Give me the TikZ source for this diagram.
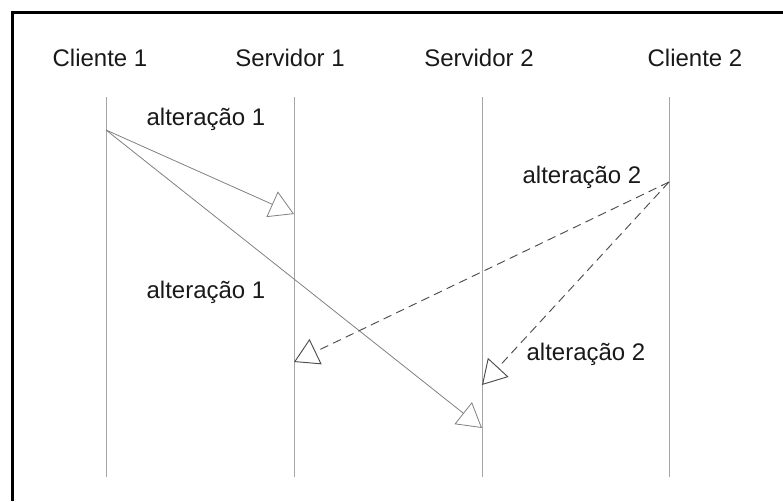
\documentclass[tikz,border=0pt]{standalone}
\usepackage{fontspec}
\setmainfont{Liberation Sans}
\usetikzlibrary{arrows.meta}

\begin{document}
\begin{tikzpicture}[x=0.75pt,y=-0.75pt,
   vida/.style={draw=black!35,line width=0.5pt},
   msg/.style={draw=black!50,line width=0.6pt,
      -{Triangle[open,length=18pt,width=21pt]}},
   tracejada/.style={msg,draw=black!70,line width=0.7pt,
      dash pattern=on 6.5pt off 4pt},
   texto/.style={anchor=base,inner sep=0pt,text=black!90,
      font=\fontsize{18}{21}\selectfont}]

   \useasboundingbox (0,0) rectangle (783,501);
   \draw[line width=2.2pt] (12.5,501) -- (12.5,12.5) -- (783,12.5);

   % cabecalhos e linhas de vida
   \foreach \n/\x/\tx/\nome in {c1/106/100/Cliente 1, s1/294/290/Servidor 1,
      s2/482/479/Servidor 2, c2/669/695/Cliente 2}
   {
      \node[texto] (h\n) at (\tx,66) {\nome};
      \path (\x,97) coordinate (T\n);
      \path (\x,477) coordinate (B\n);
      \draw[vida] (T\n) -- (B\n);
   }

   % pontos de envio e chegada
   \path (106,130) coordinate (E1);
   \path (294,214) coordinate (R1);
   \path (482,428) coordinate (R2);
   \path (669,182) coordinate (E2);
   \path (294,362) coordinate (R3);
   \path (482,385) coordinate (R4);

   \draw[msg] (E1) -- (R1);
   \draw[msg] (E1) -- (R2);
   \draw[tracejada] (E2) -- (R3);
   \draw[tracejada] (E2) -- (R4);

   \node[texto] (alt1) at (206,125) {alteração 1};
   \node[texto] (alt1b) at (206,298) {alteração 1};
   \node[texto] (alt2) at (582,183) {alteração 2};
   \node[texto] (alt2b) at (586,360) {alteração 2};
\end{tikzpicture}
\end{document}
